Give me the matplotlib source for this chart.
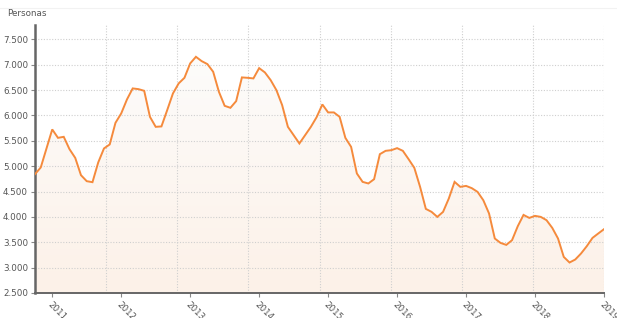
import numpy as np
import matplotlib
matplotlib.use("Agg")
import matplotlib.pyplot as plt
from matplotlib.lines import Line2D

# Monthly values, Oct 2010 .. Jan 2019
values = [
    4842, 4974, 5349,
    5724, 5558, 5578, 5335, 5163, 4822, 4704, 4684, 5073, 5349, 5428, 5854,
    6039, 6315, 6532, 6518, 6485, 5972, 5775, 5783, 6104, 6433, 6631, 6741,
    7025, 7155, 7070, 7011, 6860, 6465, 6189, 6150, 6282, 6749, 6741, 6729,
    6932, 6847, 6696, 6499, 6203, 5775, 5611, 5447, 5611, 5775, 5966, 6216,
    6059, 6059, 5972, 5558, 5380, 4856, 4690, 4659, 4743, 5236, 5302, 5315,
    5355, 5302, 5138, 4966, 4592, 4158, 4099, 4000, 4099, 4363, 4690, 4592,
    4611, 4566, 4493, 4329, 4067, 3574, 3487, 3448, 3541, 3817, 4039, 3980,
    4020, 4000, 3935, 3783, 3574, 3211, 3101, 3160, 3278, 3422, 3586, 3673,
    3758,
]
year_labels = ["2011", "2012", "2013", "2014", "2015", "2016", "2017", "2018", "2019"]
y_ticks = [2500, 3000, 3500, 4000, 4500, 5000, 5500, 6000, 6500, 7000, 7500]
y_label = "Personas"

x = np.arange(len(values))
n = len(values) - 1

W, H = 617, 318
fig = plt.figure(figsize=(W / 100, H / 100), dpi=100)
ax = fig.add_axes([35 / W, (H - 293) / H, (604 - 35) / W, (293 - 25) / H])

ymin, ymax = 2500, 7782
ax.set_xlim(0, n)
ax.set_ylim(ymin, ymax)

# gradient fill under the line
grad = np.linspace(0, 1, 256).reshape(-1, 1)
top_c = np.array([253, 252, 251]) / 255
bot_c = np.array([252, 241, 232]) / 255
img = top_c + (bot_c - top_c) * grad
img = img.reshape(256, 1, 3)
im = ax.imshow(img, extent=[0, n, ymin, 7200], origin="upper", aspect="auto", zorder=1)
poly = ax.fill_between(x, values, ymin, color="none", lw=0)
clip = poly.get_paths()[0]
im.set_clip_path(clip, transform=ax.transData)
ax.set_xlim(0, n)
ax.set_ylim(ymin, ymax)

# grid
for yv in y_ticks[1:]:
    ax.axhline(yv, color="#cfcfcf", lw=0.8, ls=(0, (1, 1.5)), zorder=2)
for k in range(1, 9):
    ax.axvline(n * k / 8, color="#cfcfcf", lw=0.8, ls=(0, (1, 1.5)), zorder=2)

ax.plot(x, values, color="#f58a3c", lw=1.4, zorder=3, solid_joinstyle="miter")

ax.set_yticks(y_ticks)
ax.set_yticklabels([f"{v:,}".replace(",", ".") for v in y_ticks])
xt = [3 + 12 * i for i in range(len(year_labels))]
ax.set_xticks(xt)
ax.set_xticklabels(year_labels, rotation=-45, ha="left", va="top", rotation_mode="anchor")

for s in ["top", "right"]:
    ax.spines[s].set_visible(False)
ax.spines["left"].set_color("#666666")
ax.spines["left"].set_linewidth(1.8)
ax.spines["bottom"].set_color("#666666")
ax.spines["bottom"].set_linewidth(1.4)
ax.tick_params(axis="y", length=3, width=0.8, color="#888888", labelsize=6.3, labelcolor="#555555", pad=2)
ax.tick_params(axis="x", length=3, width=0.8, color="#888888", labelsize=6.3, labelcolor="#555555", pad=2)

fig.text(7 / W, 1 - 14 / H, y_label, fontsize=6.3, color="#555555", ha="left", va="center")
fig.add_artist(Line2D([0, 1], [1 - 8 / H, 1 - 8 / H], color="#f2f2f2", lw=0.8, transform=fig.transFigure))

fig.savefig("out.png", dpi=100)
